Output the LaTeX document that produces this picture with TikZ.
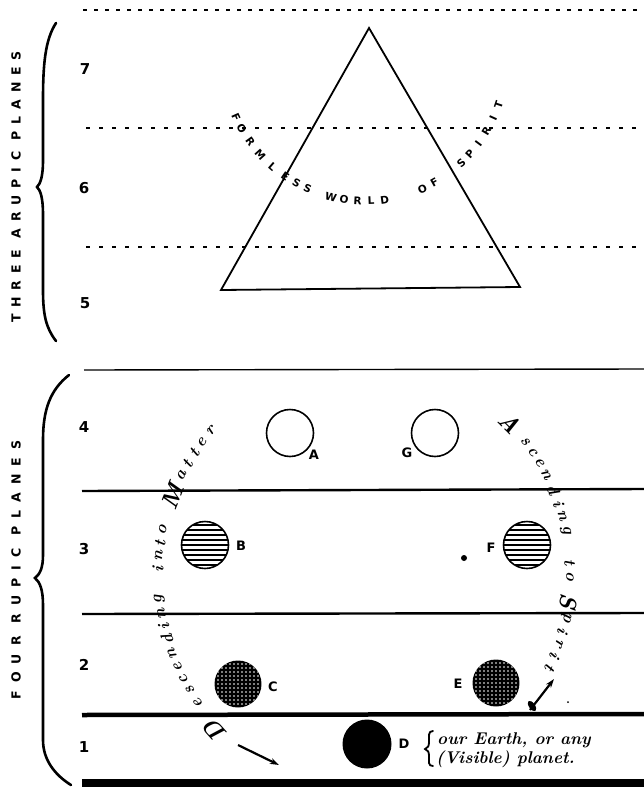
\documentclass[tikz,border=0pt]{standalone}
\usepackage{fontspec}
\newfontfamily\capsA[LetterSpace=55]{DejaVu Sans}
\newfontfamily\capsB[LetterSpace=65]{DejaVu Sans}
\newfontfamily\dvs{DejaVu Sans}
\usetikzlibrary{arrows.meta}
\tikzset{
  dotline/.style={line width=2.2pt, dash pattern=on 4pt off 9pt},
  num/.style={font=\dvs\fontsize{15}{15}\selectfont\bfseries, inner sep=0},
  lbl/.style={font=\dvs\bfseries\fontsize{13}{13}\selectfont, inner sep=0},
  scr/.style={font=\fontsize{16.5}{16.5}\selectfont\bfseries\itshape, inner sep=0},
  arcl/.style={font=\dvs\bfseries\fontsize{10.5}{10.5}\selectfont, inner sep=0},
  notetxt/.style={anchor=west, inner sep=0, font=\fontsize{17}{17}\selectfont\bfseries\itshape},
  planet/.style={circle, minimum size=47pt, inner sep=0, line width=1.6pt},
  hatch/.style={planet, draw, path picture={
      \foreach \k in {-4,...,4}
        \draw[line width=2.6pt] ([yshift=\k*5pt]path picture bounding box.west) -- ([yshift=\k*5pt]path picture bounding box.east);}},
  screen/.style={planet, fill=black, path picture={
      \foreach \i in {-6,...,6}
        \foreach \j in {-6,...,6}
          \fill[white] ([xshift=\i*4pt,yshift=\j*4pt]path picture bounding box.center) circle (0.85pt);}},
  brc/.style={line width=2.6pt, line cap=round},
  arr/.style={line width=2.2pt, -{Stealth[length=9pt,width=6pt]}}
}
\newcommand{\scriptcap}[1]{{\fontsize{24}{24}\selectfont #1}}
\begin{document}
\begin{tikzpicture}[x=1pt,y=-1pt]
\useasboundingbox (0,0) rectangle (644,787);
% plane lines
\draw[dotline, dash pattern=on 4pt off 7pt] (83,10) -- (644,10);
\draw[dotline] (86,128) -- (644,128);
\draw[dotline] (86,247) -- (644,247);
\draw[line width=1.4pt] (84,370) -- (644,369);
\draw[line width=2.4pt] (82,491) -- (644,489);
\draw[line width=2.4pt] (82,614) -- (644,613);
\draw[line width=4.5pt] (82,715) -- (644,714);
\draw[line width=8pt] (82,783) -- (644,783);
% triangle
\draw[line width=1.8pt, line join=miter] (369,28) -- (520,287) -- (221,290) -- cycle;
% braces
\draw[brc] (56,23) .. controls (45,40) and (43,65) .. (43,100) -- (43,160) .. controls (43,178) and (40,184) .. (37,187) .. controls (40,190) and (43,196) .. (43,215) -- (43,290) .. controls (43,315) and (46,328) .. (56,341);
\draw[brc] (69,375) .. controls (50,390) and (43,410) .. (43,440) -- (43,555) .. controls (43,568) and (40,574) .. (35,578) .. controls (40,582) and (43,590) .. (43,605) -- (43,740) .. controls (43,760) and (55,775) .. (71,785);
% side titles
\node[rotate=90, font=\capsA\bfseries\fontsize{12.5}{12.5}\selectfont, inner sep=0] (t3) at (16,187) {THREE ARUPIC PLANES};
\node[rotate=90, font=\capsB\bfseries\fontsize{12.5}{12.5}\selectfont, inner sep=0] (t4) at (16,570) {FOUR RUPIC PLANES};
% numbers
\node[num] (n7) at (85,69) {7};
\node[num] (n6) at (84,188) {6};
\node[num] (n5) at (85,303) {5};
\node[num] (n4) at (84,427) {4};
\node[num] (n3) at (84,549) {3};
\node[num] (n2) at (84,665) {2};
\node[num] (n1) at (84,747) {1};
% formless world of spirit
\foreach \c/\p [count=\i] in {F/156,O/151,R/144.5,M/138,L/131,E/124.5,S/119,S/114,W/104,O/98.5,R/93,L/87.5,D/82,O/66,F/60.5,S/47,P/42,I/36.5,R/30.5,I/24.5,T/18.5}
  \node[arcl, rotate={90-\p}] (fw\i) at ({365+141*cos(\p)},{60+141*sin(\p)}) {\c};
% planets
\node[planet, draw] (pA) at (290,433) {};
\node[planet, draw] (pG) at (435,433) {};
\node[hatch] (pB) at (205,545) {};
\node[hatch] (pF) at (527,545) {};
\node[screen] (pC) at (238,684) {};
\node[screen] (pE) at (496,683) {};
\node[planet, fill=black, minimum size=49pt] (pD) at (367,744) {};
\node[circle, fill, inner sep=0, minimum size=6pt] (dotF) at (464,558) {};
\node[circle, fill, inner sep=0, minimum size=2pt] (dotE) at (568,702) {};
% labels
\node[lbl] (lA) at (314,455) {A};
\node[lbl] (lG) at (407,453) {G};
\node[lbl] (lB) at (241,546) {B};
\node[lbl] (lF) at (491,548) {F};
\node[lbl] (lC) at (273,687) {C};
\node[lbl] (lE) at (458,684) {E};
\node[lbl] (lD) at (404,744) {D};
% note
\draw[line width=1.8pt, line cap=round] (433,731) .. controls (428,731) and (429,736) .. (429,742) .. controls (429,746) and (428,748) .. (425,749) .. controls (428,750) and (429,752) .. (429,756) .. controls (429,762) and (428,766) .. (433,766);
\node[notetxt] (note1) at (437,740) {our Earth, or any};
\node[notetxt] (note2) at (436,759) {(Visible) planet.};
% descending into matter
\node[scr, rotate=132] (dm0) at (215,731) {\scriptcap{D}};
\foreach \c/\a [count=\i] in {e/216.5,s/212.5,c/209,e/205.5,n/201.5,d/197.5,i/194,n/190.5,g/186.5,i/178.5,n/175,t/171.5,o/168,\scriptcap{M}/158.5,a/152.5,t/149,t/145.5,e/142,r/138}
  \node[scr, rotate={\a-90}] (dm\i) at ({364+206*cos(\a)},{575-215*sin(\a)}) {\c};
% ascending to spirit
\foreach \c/\a [count=\i] in {\scriptcap{A}/45,s/38.5,c/35,e/31.5,n/28,d/23.5,i/19.5,n/16,g/12,t/3.5,o/-0.5,\scriptcap{S}/-7,p/-11.5,i/-15,r/-18.5,i/-22,t/-25.5}
  \node[scr, rotate={\a-90}] (as\i) at ({364+206*cos(\a)},{575-215*sin(\a)}) {\c};
% arrows
\coordinate (la0) at (238,745);
\coordinate (la1) at (279,765);
\draw[arr] (la0) -- (la1);
\coordinate (ra0) at (530,710);
\coordinate (ra1) at (554,679);
\draw[arr] (ra0) -- (ra1);
\fill[rotate around={-55:(532,706)}] (532,706) ellipse (6 and 3);
\end{tikzpicture}
\end{document}
